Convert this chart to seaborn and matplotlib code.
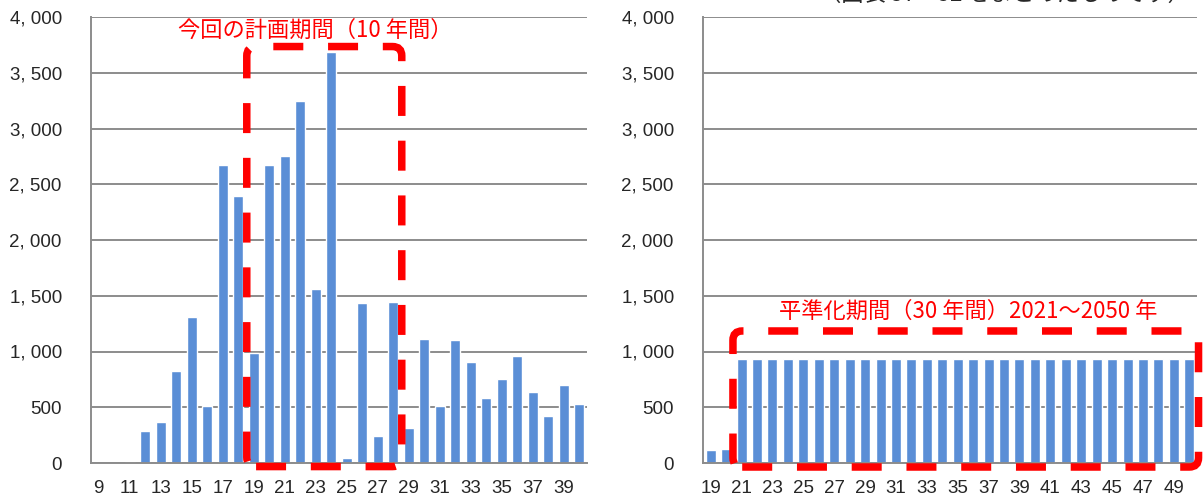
import numpy as np
import pandas as pd
import matplotlib
matplotlib.use('Agg')
import matplotlib.pyplot as plt
from matplotlib.patches import FancyBboxPatch
import seaborn as sns

sns.set_style('white')
plt.rcParams['font.family'] = ['Liberation Sans', 'Noto Sans CJK JP', 'DejaVu Sans']

# left chart: years 9..40
years_left = list(range(9, 41))
values_left = [0, 0, 12, 290, 365, 825, 1310, 511, 2673, 2395,
               985, 2670, 2753, 3246, 1562, 3688, 45, 1435, 242, 1444,
               314, 1110, 511, 1103, 905, 583, 753, 960, 637, 421,
               700, 529]

# right chart: years 19..50 (levelled)
years_right = list(range(19, 51))
values_right = [117, 125] + [930] * 30

yticks = list(range(0, 4001, 500))
text_left = '今回の計画期間（10 年間）'
text_right = '平準化期間（30 年間）2021～2050 年'
text_top = '（図表 37・52 をまとめたものです）'

BLUE = '#5A8ED6'
GRID = '#8C8C8C'
RED = '#FF0000'
JP = ['Noto Sans CJK JP', 'DejaVu Sans']

W, H = 1204, 497
fig = plt.figure(figsize=(W / 100, H / 100), dpi=100)
ax1 = fig.add_axes([91 / W, 34 / H, 496 / W, 446 / H])
ax2 = fig.add_axes([703 / W, 34 / H, 494 / W, 446 / H])


def style_axis(ax, years, values):
    df = pd.DataFrame({'year': [str(y) for y in years], 'value': values})
    sns.barplot(data=df, x='year', y='value', color=BLUE, saturation=1,
                width=0.65, ax=ax, order=df['year'])
    ax.set_xlim(-0.5, len(years) - 0.5)
    ax.set_ylim(0, 4000)
    ax.set_yticks(yticks)
    ax.set_yticklabels([f'{v:,}'.replace(',', ', ') for v in yticks])
    ax.yaxis.grid(True, color=GRID, lw=1.4)
    ax.set_axisbelow(True)
    ax.set_xticks(range(0, len(years), 2))
    ax.set_xticklabels([str(y) for y in years[::2]])
    ax.set_xticks(np.arange(-0.5, len(years), 1), minor=True)
    ax.tick_params(axis='x', which='major', length=0, pad=12, labelsize=13.5)
    ax.tick_params(axis='x', which='minor', length=5, color=GRID, width=1.4)
    ax.tick_params(axis='y', length=5, color=GRID, width=1.4, pad=16, labelsize=13.5)
    ax.set_xlabel('')
    ax.set_ylabel('')
    for s in ['top', 'right']:
        ax.spines[s].set_visible(False)
    for s in ['left', 'bottom']:
        ax.spines[s].set_color(GRID)
        ax.spines[s].set_linewidth(1.4)


def dashed_box(ax, x0, x1, y0, y1):
    # keep corner radius round in pixels (x unit ~15.5px, y unit ~0.1115px)
    aspect = 15.5 / 0.1115
    box = FancyBboxPatch((x0, y0), x1 - x0, y1 - y0,
                         boxstyle='round,pad=0,rounding_size=0.6',
                         mutation_aspect=aspect, fill=False,
                         edgecolor=RED, lw=5.4, clip_on=False, zorder=5)
    box.set_linestyle((0, (4.0, 3.3)))
    ax.add_patch(box)


style_axis(ax1, years_left, values_left)
style_axis(ax2, years_right, values_right)

dashed_box(ax1, 9.55, 19.55, -32, 3735)
dashed_box(ax2, 1.44, 31.6, -36, 1184)

ax1.text(14.0, 3880, text_left, color=RED, fontsize=16, family=JP,
         ha='center', va='center', zorder=6)
ax2.text(16.66, 1363, text_right, color=RED, fontsize=16, family=JP,
         ha='center', va='center', zorder=6,
         bbox=dict(facecolor='white', edgecolor='none', pad=1))
fig.text(1190 / W, 1.0 + 6 / H, text_top, fontsize=16, family=JP,
         ha='right', va='center')

fig.savefig('out.png', dpi=100)
